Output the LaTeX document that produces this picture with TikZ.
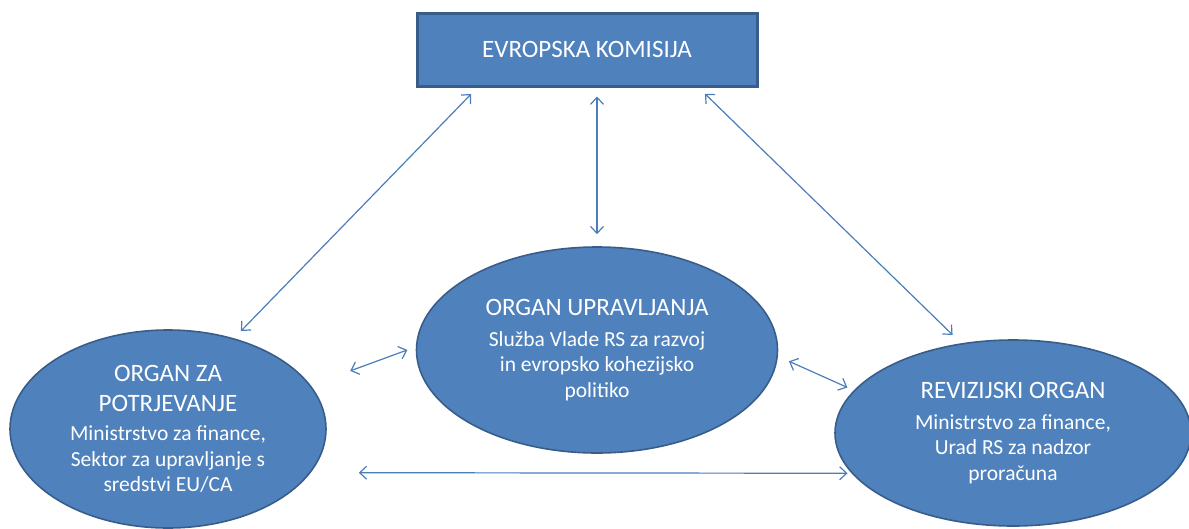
\documentclass[tikz,border=0pt]{standalone}
\usepackage{fontspec}
\setmainfont{Carlito}
\usetikzlibrary{arrows.meta,shapes.geometric}
\definecolor{officeblue}{HTML}{4F81BD}
\definecolor{officeline}{HTML}{385D8A}
\definecolor{arrowblue}{HTML}{4A7EBB}
\newcommand{\organhead}[1]{{\fontsize{25}{30}\selectfont #1}}

\begin{document}
\begin{tikzpicture}[
    x=1pt, y=-1pt,
    font=\fontsize{21.5}{25.5}\selectfont,
    >={Straight Barb[length=7pt, width=13pt]},
    commission/.style={draw=officeline, line width=3pt, fill=officeblue, text=white, font=\fontsize{25}{30}\selectfont, minimum width=340pt, minimum height=73pt},
    organ/.style={ellipse, draw=officeline, line width=1.6pt, fill=officeblue, text=white, align=center, inner sep=0pt},
    link/.style={<->, draw=arrowblue, line width=1.2pt}
]
\useasboundingbox (0,0) rectangle (1189,528);

% European Commission on top
\node[commission] (kom) at (587,49.5) {EVROPSKA KOMISIJA};

% the three bodies
\node[organ, minimum width=361pt, minimum height=206pt] (upr) at (597,350)
    {\organhead{ORGAN UPRAVLJANJA}\\[5pt]Služba Vlade RS za razvoj\\in evropsko kohezijsko\\politiko};
\node[organ, minimum width=316pt, minimum height=198pt] (potr) at (168,429)
    {\organhead{ORGAN ZA}\\[4pt]\organhead{POTRJEVANJE}\\[4pt]Ministrstvo za finance,\\Sektor za upravljanje s\\sredstvi EU/CA};
\node[organ, minimum width=356pt, minimum height=186pt] (rev) at (1013,433)
    {\organhead{REVIZIJSKI ORGAN}\\[5pt]Ministrstvo za finance,\\Urad RS za nadzor\\proračuna};

% links to the Commission
\draw[link, shorten <=9pt, shorten >=10pt] ([xshift=62pt]kom.south west) -- (potr.54);
\draw[link, shorten <=12pt, shorten >=9pt] (upr.north) -- (upr.north |- kom.south);
\draw[link, shorten <=9pt, shorten >=12pt] ([xshift=-60pt]kom.south east) -- (rev.120);

% links between the bodies
\draw[link, shorten <=42pt, shorten >=9pt] (potr.17) -- (upr.179);
\draw[link, shorten <=12pt, shorten >=7pt] (upr.-2) -- (rev.165);
\draw[link, shorten <=48pt, shorten >=4pt] (potr.-17) -- (rev.-166);

\end{tikzpicture}
\end{document}
